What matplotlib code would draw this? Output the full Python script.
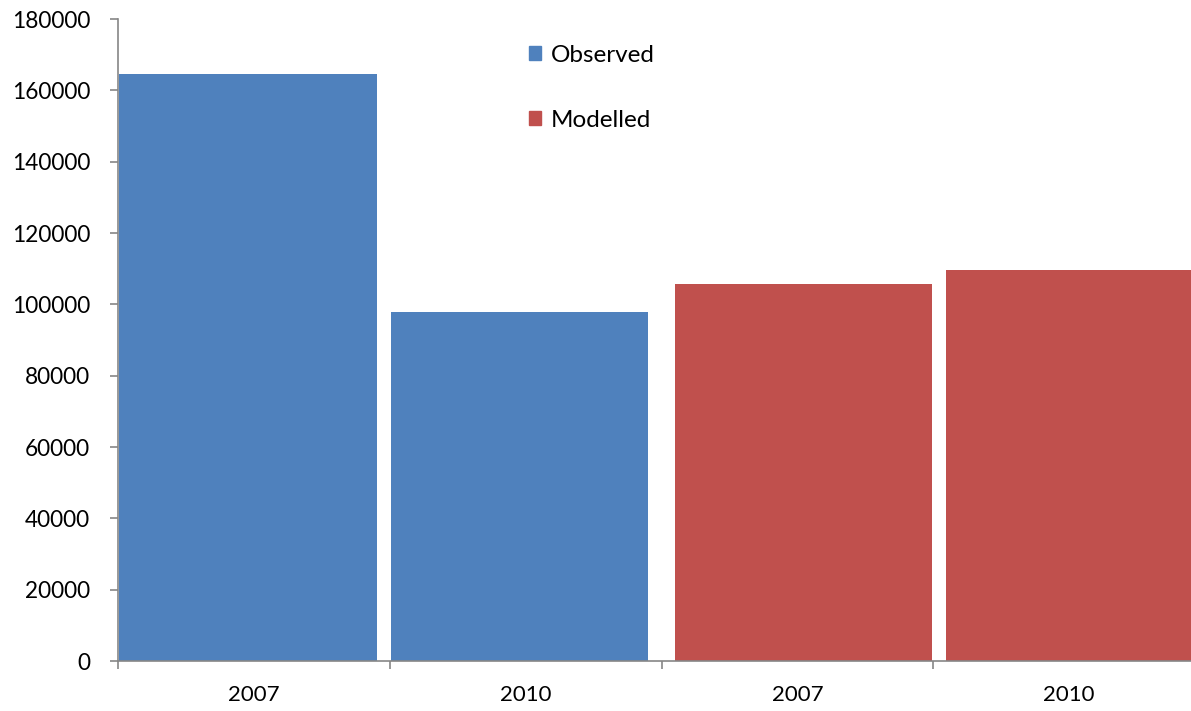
"""Observed vs modelled totals, 2007 and 2010."""

import numpy as np
from matplotlib import pyplot as plt
from matplotlib.patches import Patch

plt.rcParams["font.family"] = ["Lato", "DejaVu Sans"]

# data
years = ["2007", "2010", "2007", "2010"]
observed = [164600, 97850]
modelled = [105700, 109550]
y_ticks = [0, 20000, 40000, 60000, 80000, 100000, 120000, 140000, 160000, 180000]

blue = "#4F81BD"
red = "#C0504D"
axis_grey = "#868686"

fig = plt.figure(figsize=(11.91, 7.11), dpi=100)
# axes runs off the right edge, like the cropped original
ax = fig.add_axes([118 / 1191, 1 - 661 / 711, 1087 / 1191, 642 / 711])

width = 0.948
x_obs = np.arange(len(observed)) - 0.022
x_mod = np.arange(len(observed), len(years)) + 0.022
ax.bar(x_obs, observed, width=width, color=blue, label="Observed")
ax.bar(x_mod, modelled, width=width, color=red, label="Modelled")

ax.set_xlim(-0.5, len(years) - 0.5)
ax.set_ylim(0, 180000)
ax.set_yticks(y_ticks)
ax.set_yticklabels([str(t) for t in y_ticks])

# category ticks sit on the boundaries, labels in the middle
ax.set_xticks(np.arange(len(years) + 1) - 0.5)
ax.set_xticklabels([])
ax.set_xticks(np.arange(len(years)), minor=True)
ax.set_xticklabels(years, minor=True)
ax.tick_params(axis="x", which="minor", length=0, pad=17, labelsize=16)
ax.tick_params(axis="x", which="major", length=6, width=1.2, color=axis_grey)
ax.tick_params(axis="y", length=6, width=1.2, color=axis_grey, pad=14, labelsize=16.3)

for side in ["top", "right"]:
    ax.spines[side].set_visible(False)
for side in ["left", "bottom"]:
    ax.spines[side].set_color(axis_grey)
    ax.spines[side].set_linewidth(1.2)

handles = [Patch(color=blue), Patch(color=red)]
fig.legend(
    handles,
    ["Observed", "Modelled"],
    loc="upper left",
    bbox_to_anchor=(529 / 1191, 1 - 45 / 711),
    frameon=False,
    fontsize=17.5,
    handlelength=0.5,
    handleheight=0.5,
    handletextpad=0.4,
    labelspacing=1.8,
    borderpad=0,
    borderaxespad=0,
)

fig.savefig("out.png", dpi=100)
